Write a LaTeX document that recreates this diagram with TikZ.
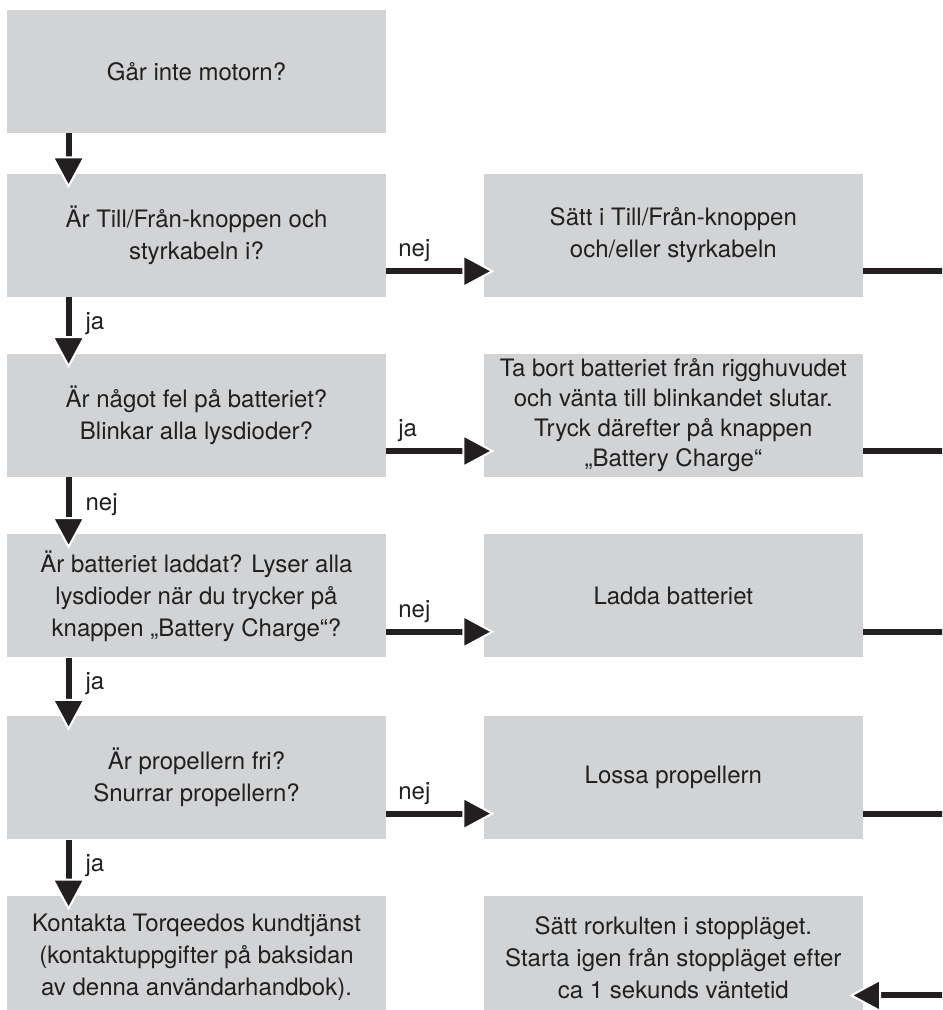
\documentclass[tikz,border=0pt]{standalone}
\usepackage{fontspec}
\setmainfont{TeX Gyre Heros}
\usepackage{xcolor}
\usetikzlibrary{positioning, arrows.meta}

\definecolor{boxgray}{RGB}{209,211,212}
\definecolor{ink}{RGB}{35,31,32}

\begin{document}
\begin{tikzpicture}[
    node distance=28.5pt and 48.5pt,
    box/.style={rectangle, fill=boxgray, text=ink, minimum width=189.5pt, minimum height=61.5pt, inner sep=0pt, align=center, font=\fontsize{12}{16}\selectfont},
    arrow/.style={draw=ink, line width=3pt, -{Triangle[length=16pt, width=17pt, fill=ink, color=white, line width=1pt]}},
    link/.style={draw=ink, line width=3pt},
    lbl/.style={text=ink, inner sep=2pt, font=\fontsize{12}{16}\selectfont}
]

    % Page frame
    \useasboundingbox (-98.25pt,35.75pt) rectangle (372.75pt,-469.25pt);
    \clip (-98.25pt,35.75pt) rectangle (372.75pt,-469.25pt);

    % Questions - left column
    \node[box] (start) {Går inte motorn?};
    \node[box, below=20pt of start] (plugs) {Är Till/Från-knoppen och\\styrkabeln i?};
    \node[box, below=28pt of plugs] (battfault) {Är något fel på batteriet?\\Blinkar alla lysdioder?};
    \node[box, below=of battfault] (charged) {Är batteriet laddat? Lyser alla\\lysdioder när du trycker på\\knappen „Battery Charge“?};
    \node[box, below=29pt of charged] (prop) {Är propellern fri?\\Snurrar propellern?};
    \node[box, below=28pt of prop] (service) {Kontakta Torqeedos kundtjänst\\(kontaktuppgifter på baksidan\\av denna användarhandbok).};

    % Remedies - right column
    \node[box, right=of plugs] (fixplugs) {Sätt i Till/Från-knoppen\\och/eller styrkabeln};
    \node[box, right=of battfault, font=\fontsize{12}{15}\selectfont] (reset) {Ta bort batteriet från rigghuvudet\\och vänta till blinkandet slutar.\\Tryck därefter på knappen\\„Battery Charge“};
    \node[box, right=of charged] (charge) {Ladda batteriet};
    \node[box, right=of prop] (freeprop) {Lossa propellern};
    \node[box, right=of service] (restart) {Sätt rorkulten i stoppläget.\\Starta igen från stoppläget efter\\ca 1 sekunds väntetid};

    % Down the question column
    \draw[arrow] ([xshift=31pt]start.south west) -- ([xshift=31pt, yshift=-7.5pt]plugs.north west);
    \draw[arrow] ([xshift=31pt]plugs.south west) -- ([xshift=31pt, yshift=-7.5pt]battfault.north west)
        node[lbl, at start, anchor=north west, xshift=5pt, yshift=-4pt] {ja};
    \draw[arrow] ([xshift=31pt]battfault.south west) -- ([xshift=31pt, yshift=-7.5pt]charged.north west)
        node[lbl, at start, anchor=north west, xshift=5pt, yshift=-5pt] {nej};
    \draw[arrow] ([xshift=31pt]charged.south west) -- ([xshift=31pt, yshift=-7.5pt]prop.north west)
        node[lbl, at start, anchor=north west, xshift=5pt, yshift=-4pt] {ja};
    \draw[arrow] ([xshift=31pt]prop.south west) -- ([xshift=31pt, yshift=-7.5pt]service.north west)
        node[lbl, at start, anchor=north west, xshift=5pt, yshift=-4pt] {ja};

    % Across to the remedies
    \draw[arrow] ([yshift=13pt]plugs.south east) -- ([xshift=5.5pt, yshift=13pt]fixplugs.south west)
        node[lbl, at start, anchor=south west, xshift=2.5pt, yshift=1pt] {nej};
    \draw[arrow] ([yshift=13pt]battfault.south east) -- ([xshift=5.5pt, yshift=13pt]reset.south west)
        node[lbl, at start, anchor=south west, xshift=2.5pt, yshift=1pt] {ja};
    \draw[arrow] ([yshift=13pt]charged.south east) -- ([xshift=5.5pt, yshift=13pt]charge.south west)
        node[lbl, at start, anchor=south west, xshift=2.5pt, yshift=1pt] {nej};
    \draw[arrow] ([yshift=13pt]prop.south east) -- ([xshift=5.5pt, yshift=13pt]freeprop.south west)
        node[lbl, at start, anchor=south west, xshift=2.5pt, yshift=1pt] {nej};

    % Return lines at the right edge
    \coordinate (out1) at ([xshift=41pt, yshift=13pt]fixplugs.south east);
    \coordinate (out2) at ([xshift=41pt, yshift=13pt]reset.south east);
    \coordinate (out3) at ([xshift=41pt, yshift=13pt]charge.south east);
    \coordinate (out4) at ([xshift=41pt, yshift=13pt]freeprop.south east);
    \coordinate (back) at ([xshift=41pt, yshift=12pt]restart.south east);
    \draw[link] ([yshift=13pt]fixplugs.south east) -- (out1);
    \draw[link] ([yshift=13pt]reset.south east) -- (out2);
    \draw[link] ([yshift=13pt]charge.south east) -- (out3);
    \draw[link] ([yshift=13pt]freeprop.south east) -- (out4);
    \draw[arrow] (back) -- ([xshift=-7pt, yshift=12pt]restart.south east);

\end{tikzpicture}
\end{document}
